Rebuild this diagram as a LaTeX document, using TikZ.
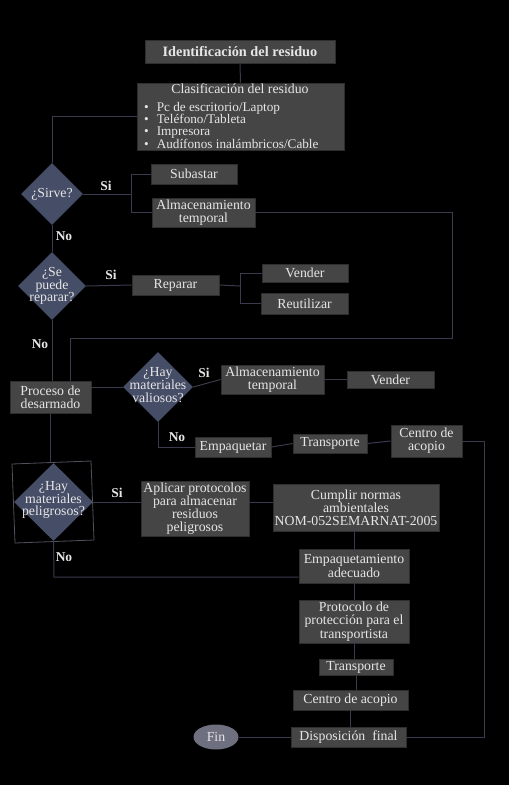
\documentclass[tikz,border=0pt]{standalone}
\usepackage{fontspec}
\setmainfont{Liberation Serif}
\usetikzlibrary{shapes.geometric,calc}
\definecolor{boxfill}{HTML}{454545}
\definecolor{boxline}{HTML}{2E2E2E}
\definecolor{decfill}{HTML}{464D66}
\definecolor{wire}{HTML}{3A3A4C}
\definecolor{frame}{HTML}{50505E}
\definecolor{ink}{HTML}{E6E6E6}
\definecolor{endfill}{HTML}{6E7080}
\begin{document}
\begin{tikzpicture}[x=1pt,y=-1pt,
  every node/.style={text=ink,font=\fontsize{13.8}{13.2}\selectfont},
  stepbox/.style={rectangle,fill=boxfill,draw=boxline,line width=0.8pt,inner sep=0pt,align=center},
  decision/.style={diamond,fill=decfill,inner sep=0pt},
  dectext/.style={inner sep=0pt,align=center,font=\fontsize{13.8}{12.8}\selectfont},
  wirestyle/.style={draw=wire,line width=1pt},
  answer/.style={font=\fontsize{13.5}{13}\selectfont\bfseries}]
% canvas
\fill[black] (0,0) rectangle (509,785);
\useasboundingbox (0,0) rectangle (509,785);

% top boxes
\node[stepbox,minimum width=190,minimum height=23,font=\fontsize{14.3}{14}\selectfont\bfseries] (ident) at (240,51.5) {Identificación del residuo};
\node[stepbox,minimum width=207,minimum height=67] (clasif) at (240.5,116.5) {};
\node (clasifT) at (240,89) {Clasificación del residuo};
\node[anchor=north west,align=left,inner sep=0pt,font=\fontsize{13.2}{12.3}\selectfont] (clasifL) at (144,102)
  {\textbullet\hspace{8pt}Pc de escritorio/Laptop\\
   \textbullet\hspace{8pt}Teléfono/Tableta\\
   \textbullet\hspace{8pt}Impresora\\
   \textbullet\hspace{8pt}Audífonos inalámbricos/Cable};

% first decision
\node[decision,minimum width=62,minimum height=62] (sirve) at (52,194) {};
\node[dectext] (sirveT) at (52,194) {¿Sirve?};
\node[stepbox,minimum width=86,minimum height=20] (subastar) at (194,174) {Subastar};
\node[stepbox,minimum width=103,minimum height=29] (almac1) at (203.5,212.5) {Almacenamiento\\temporal};

% second decision
\node[decision,minimum width=68,minimum height=68] (repar) at (52,286) {};
\node[dectext] (reparT) at (52,286) {¿Se\\puede\\reparar?};
\node[stepbox,minimum width=87,minimum height=20] (reparar) at (175.5,285) {Reparar};
\node[stepbox,minimum width=86,minimum height=18] (vender1) at (305,273) {Vender};
\node[stepbox,minimum width=87,minimum height=21] (reutil) at (304.5,303.5) {Reutilizar};

% disassembly and valuable materials
\node[stepbox,minimum width=81,minimum height=32] (proceso) at (50.5,397) {Proceso de\\desarmado};
\node[decision,minimum width=70,minimum height=70] (valiosos) at (158,387) {};
\node[dectext] (valiososT) at (158,385) {¿Hay\\materiales\\valiosos?};
\node[stepbox,minimum width=103,minimum height=29] (almac2) at (272.5,379.5) {Almacenamiento\\temporal};
\node[stepbox,minimum width=87,minimum height=17] (vender2) at (390.5,379.5) {Vender};
\node[stepbox,minimum width=76,minimum height=20] (empaq) at (233,447) {Empaquetar};
\node[stepbox,minimum width=74,minimum height=19] (transp1) at (330,443.5) {Transporte};
\node[stepbox,minimum width=71,minimum height=32] (centro1) at (426.5,441) {Centro de\\acopio};

% hazardous materials
\draw[draw=frame,line width=0.8pt] (12,464) -- (91,461) -- (94,540) -- (15,543) -- cycle;
\node[decision,minimum width=79,minimum height=78] (pelig) at (53.5,502) {};
\node[dectext] (peligT) at (53.5,500) {¿Hay\\materiales\\peligrosos?};
\node[stepbox,minimum width=108,minimum height=55] (aplicar) at (195,508.5) {Aplicar protocolos\\para almacenar\\residuos\\peligrosos};
\node[stepbox,minimum width=166,minimum height=47] (cumplir) at (356,507.5) {Cumplir normas\\ambientales\\NOM-052SEMARNAT-2005};
\node[stepbox,minimum width=110,minimum height=34] (empaque) at (354,566) {Empaquetamiento\\adecuado};
\node[stepbox,minimum width=110,minimum height=43] (protoc) at (354,621.5) {Protocolo de\\protección para el\\transportista};
\node[stepbox,minimum width=74,minimum height=16] (transp2) at (356,667.5) {Transporte};
\node[stepbox,minimum width=115,minimum height=20] (centro2) at (350.5,700) {Centro de acopio};
\node[stepbox,minimum width=115,minimum height=20] (disp) at (348.5,737) {Disposición\ \ final};
\node[ellipse,fill=endfill,minimum width=45,minimum height=25,inner sep=0pt] (fin) at (216,737) {Fin};

% answer labels
\node[answer] (si1) at (106,186) {Si};
\node[answer] (no1) at (64,236) {No};
\node[answer] (si2) at (111,275) {Si};
\node[answer] (no2) at (40,344) {No};
\node[answer] (si3) at (204,373) {Si};
\node[answer] (no3) at (177,437) {No};
\node[answer] (si4) at (117,493) {Si};
\node[answer] (no4) at (64,557) {No};

% junction points
\coordinate (j1) at (131,194);
\coordinate (j2) at (240,286);
\coordinate (r1) at (452,338);
\coordinate (r2) at (70,338);
\coordinate (r4) at (484,737);
\coordinate (r5) at (54,577);

% connectors
\begin{scope}[wirestyle]
\draw (ident.south) -- (clasif.north);
\draw (clasif.west) -| (sirve.north);
\draw (sirve.east) -- (j1);
\draw (j1) |- (subastar.west);
\draw (j1) |- (almac1.west);
\draw (almac1.east) -| (r1) -- (r2) -- (r2 |- proceso.north);
\draw (sirve.south) -- (repar.north);
\draw (repar.east) -- (reparar.west);
\draw (reparar.east) -- (j2);
\draw (j2) |- (vender1.west);
\draw (j2) |- (reutil.west);
\draw (repar.south) -- (repar.south |- proceso.north);
\draw (proceso.east |- valiosos.west) -- (valiosos.west);
\draw (valiosos.east) -- (almac2.west);
\draw (almac2.east) -- (vender2.west);
\draw (valiosos.south) |- (empaq.west);
\draw (empaq.east) -- (transp1.west);
\draw (transp1.east) -- (centro1.west);
\draw (centro1.east) -| (r4) -- (disp.east);
\draw (proceso.south) -- (proceso.south |- pelig.north);
\draw (pelig.east) -- (aplicar.west |- pelig.east);
\draw (aplicar.east |- pelig.east) -- (cumplir.west |- pelig.east);
\draw (cumplir.south -| empaque.north) -- (empaque.north);
\draw (pelig.south) -- (r5) -- (r5 -| empaque.west);
\draw (empaque.south) -- (protoc.north);
\draw (protoc.south) -- (protoc.south |- transp2.north);
\draw (transp2.south) -- (transp2.south |- centro2.north);
\draw (centro2.south) -- (centro2.south |- disp.north);
\draw (fin.east) -- (disp.west);
\end{scope}
\end{tikzpicture}
\end{document}
